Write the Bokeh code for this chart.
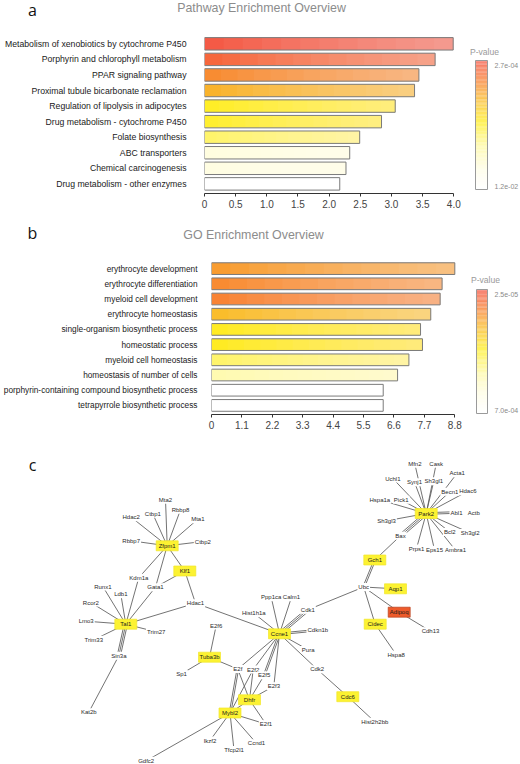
import math
from bokeh.plotting import figure
from bokeh.models import (ColumnDataSource, Range1d, FixedTicker, LinearColorMapper,
                          Label, CustomJSTickFormatter)
from bokeh.embed import file_html
from bokeh.resources import INLINE
from bokeh.core.properties import value

# ---------------- data: panel a (KEGG pathways) ----------------
pathway_terms = [
    "Metabolism of xenobiotics by cytochrome P450",
    "Porphyrin and chlorophyll metabolism",
    "PPAR signaling pathway",
    "Proximal tubule bicarbonate reclamation",
    "Regulation of lipolysis in adipocytes",
    "Drug metabolism - cytochrome P450",
    "Folate biosynthesis",
    "ABC transporters",
    "Chemical carcinogenesis",
    "Drug metabolism - other enzymes",
]
pathway_scores = [3.99, 3.70, 3.44, 3.37, 3.06, 2.84, 2.49, 2.33, 2.27, 2.17]
pathway_pvalues = [2.7e-4, 3.5e-4, 5.4e-4, 7.8e-4, 1.7e-3, 1.8e-3, 2.4e-3, 6.3e-3, 6.5e-3, 1.2e-2]
pathway_ticks = [0, 0.5, 1.0, 1.5, 2.0, 2.5, 3.0, 3.5, 4.0]
pathway_p_limits = [2.7e-4, 1.2e-2]

# ---------------- data: panel b (GO terms) ----------------
go_terms = [
    "erythrocyte development",
    "erythrocyte differentiation",
    "myeloid cell development",
    "erythrocyte homeostasis",
    "single-organism biosynthetic process",
    "homeostatic process",
    "myeloid cell homeostasis",
    "homeostasis of number of cells",
    "porphyrin-containing compound biosynthetic process",
    "tetrapyrrole biosynthetic process",
]
go_scores = [8.80, 8.34, 8.27, 7.93, 7.56, 7.63, 7.14, 6.73, 6.21, 6.21]
go_pvalues = [5.2e-5, 4.5e-5, 4.2e-5, 7.0e-5, 1.2e-4, 1.2e-4, 1.7e-4, 2.6e-4, 7.0e-4, 7.0e-4]
go_ticks = [0, 1.1, 2.2, 3.3, 4.4, 5.5, 6.6, 7.7, 8.8]
go_p_limits = [2.5e-5, 7.0e-4]

# ---------------- data: panel c (interaction network) ----------------
node_names = [
    "Zfpm1", "Klf1", "Tal1", "Tuba3b", "Ccne1", "Dhfr", "Mybl2", "Cdc6", "Park2",
    "Gch1", "Aqp1", "Cidec", "Adipoq",
    "Mta2", "Hdac2", "Ctbp1", "Rbbp8", "Mta1", "Rbbp7", "Ctbp2", "Kdm1a", "Gata1",
    "Runx1", "Ldb1", "Rcor2", "Lmo3", "Trim27", "Trim33", "Sin3a", "Kat2b", "Hdac1",
    "Sp1", "E2f6", "Hist1h1a", "Ppp1ca", "Calm1", "Cdk1", "Cdkn1b", "Pura", "Cdk2",
    "E2f", "E2f2", "E2f5", "E2f3", "E2f1", "Hist2h2bb", "Ikzf2", "Ccnd1", "Tfcp2l1",
    "Gdfc2", "Mfn2", "Cask", "Acta1", "Uchl1", "Synj1", "Sh3gl1", "Becn1", "Hdac6",
    "Hspa1a", "Pick1", "Abl1", "Actb", "Sh3gl3", "Bax", "Bcl2", "Sh3gl2", "Prps1",
    "Eps15", "Ambra1", "Ubc", "Cdh13", "Hspa8",
]
# layout coordinates of the network drawing
node_x = [
    166.7, 184.3, 125.3, 209.0, 279.0, 249.0, 229.5, 347.3, 425.7,
    374.3, 395.0, 374.7, 398.7,
    165.0, 130.7, 152.3, 180.0, 197.3, 130.7, 202.3, 138.3, 155.0,
    102.3, 120.3, 90.3, 85.7, 155.7, 93.3, 118.3, 88.3, 195.0,
    181.0, 215.7, 253.3, 270.7, 291.0, 307.3, 317.3, 307.7, 316.7,
    237.3, 252.7, 263.7, 273.3, 265.5, 374.3, 209.5, 256.0, 233.5,
    145.7, 414.3, 435.7, 456.7, 392.3, 414.0, 433.3, 449.3, 467.3,
    379.3, 400.7, 456.0, 473.3, 386.0, 400.0, 449.3, 469.7, 416.0,
    434.0, 455.0, 363.2, 430.0, 395.7,
]
node_y = [
    545.3, 570.5, 623.7, 656.7, 633.3, 699.3, 712.5, 696.2, 513.0,
    559.5, 588.3, 623.7, 611.7,
    499.3, 516.7, 513.3, 509.3, 518.7, 540.3, 541.0, 577.2, 586.7,
    586.0, 593.7, 602.0, 620.7, 631.3, 639.3, 655.3, 711.7, 602.7,
    673.3, 625.0, 612.7, 596.7, 596.7, 609.3, 629.7, 649.3, 668.8,
    668.6, 669.0, 674.8, 685.7, 723.6, 721.3, 740.0, 742.8, 749.5,
    760.3, 463.3, 463.3, 472.7, 478.0, 481.7, 480.7, 491.3, 490.7,
    499.3, 499.3, 512.0, 512.3, 520.3, 535.2, 531.5, 532.5, 548.0,
    549.3, 549.7, 586.5, 630.7, 654.0,
]
seed_nodes = ["Zfpm1", "Klf1", "Tal1", "Tuba3b", "Ccne1", "Dhfr", "Mybl2", "Cdc6",
              "Park2", "Gch1", "Aqp1", "Cidec"]
top_node = ["Adipoq"]
edges = [
    ("Zfpm1", "Mta2", 1), ("Zfpm1", "Hdac2", 1), ("Zfpm1", "Ctbp1", 1), ("Zfpm1", "Rbbp8", 1),
    ("Zfpm1", "Mta1", 1), ("Zfpm1", "Rbbp7", 1), ("Zfpm1", "Ctbp2", 1), ("Zfpm1", "Kdm1a", 1),
    ("Zfpm1", "Gata1", 1), ("Zfpm1", "Klf1", 1), ("Gata1", "Klf1", 1), ("Klf1", "Hdac1", 1),
    ("Tal1", "Runx1", 1), ("Tal1", "Ldb1", 1), ("Tal1", "Kdm1a", 1), ("Tal1", "Gata1", 1),
    ("Tal1", "Rcor2", 1), ("Tal1", "Lmo3", 1), ("Tal1", "Trim33", 1), ("Tal1", "Trim27", 1),
    ("Tal1", "Hdac1", 1), ("Tal1", "Sin3a", 3), ("Sin3a", "Kat2b", 1), ("Hdac1", "Ccne1", 1),
    ("Ccne1", "Hist1h1a", 1), ("Ccne1", "Ppp1ca", 1), ("Ccne1", "Calm1", 1), ("Ccne1", "Cdk1", 3),
    ("Ccne1", "Cdkn1b", 2), ("Ccne1", "Pura", 1), ("Ccne1", "Cdk2", 1), ("Ccne1", "E2f", 1),
    ("Ccne1", "E2f2", 1), ("Ccne1", "E2f5", 2), ("Ccne1", "E2f3", 1), ("Ubc", "Cdk1", 1),
    ("Cdk2", "Cdc6", 1), ("Cdc6", "Hist2h2bb", 1), ("Tuba3b", "E2f6", 1), ("Tuba3b", "Sp1", 1),
    ("Tuba3b", "E2f", 1), ("E2f", "Mybl2", 2), ("E2f", "Dhfr", 1), ("E2f2", "Dhfr", 1),
    ("E2f2", "Mybl2", 1), ("E2f5", "Dhfr", 1), ("E2f3", "Dhfr", 1), ("Dhfr", "E2f1", 1),
    ("Mybl2", "E2f1", 1), ("Mybl2", "Dhfr", 1), ("Mybl2", "Gdfc2", 1), ("Mybl2", "Ikzf2", 1),
    ("Mybl2", "Tfcp2l1", 1), ("Mybl2", "Ccnd1", 1), ("Ubc", "Gch1", 2), ("Ubc", "Aqp1", 1),
    ("Ubc", "Adipoq", 1), ("Ubc", "Cidec", 1), ("Gch1", "Bax", 1), ("Adipoq", "Cdh13", 1),
    ("Cidec", "Hspa8", 1), ("Park2", "Uchl1", 1), ("Park2", "Mfn2", 1), ("Park2", "Synj1", 1),
    ("Park2", "Sh3gl1", 1), ("Park2", "Cask", 1), ("Park2", "Acta1", 1), ("Park2", "Becn1", 1),
    ("Park2", "Hdac6", 1), ("Park2", "Hspa1a", 1), ("Park2", "Pick1", 1), ("Park2", "Abl1", 2),
    ("Park2", "Sh3gl3", 1), ("Park2", "Bax", 3), ("Park2", "Bcl2", 1), ("Park2", "Sh3gl2", 1),
    ("Park2", "Prps1", 1), ("Park2", "Eps15", 1), ("Park2", "Ambra1", 1),
]

# ---------------- styling ----------------
W = 520
FONT = "Liberation Sans"
ANCHORS = [(0.00, "#FFFFFF"), (0.15, "#FFFDE6"), (0.30, "#FFFAB0"), (0.42, "#FFF46E"),
           (0.52, "#FFEE22"), (0.62, "#FCD22A"), (0.72, "#F9B42C"), (0.82, "#F88C32"),
           (0.92, "#F76A3A"), (1.00, "#F45A46")]


def hex2rgb(h):
    return tuple(int(h[i:i + 2], 16) for i in (1, 3, 5))


def make_palette(n=256):
    out = []
    for i in range(n):
        t = i / (n - 1)
        for (t0, c0), (t1, c1) in zip(ANCHORS, ANCHORS[1:]):
            if t0 <= t <= t1:
                f = (t - t0) / (t1 - t0)
                a, b = hex2rgb(c0), hex2rgb(c1)
                out.append("#%02x%02x%02x" % tuple(round(a[j] + (b[j] - a[j]) * f) for j in range(3)))
                break
    return out


PALETTE = make_palette()
XTICK_FMT = CustomJSTickFormatter(code="return tick == 0 ? '0' : tick.toFixed(1);")


def header(page_top, height, letter, letter_xy, title, title_xy):
    """Strip above a bar panel holding the panel letter and title (coords = page px)."""
    h = figure(width=W, height=height, x_range=Range1d(0, W),
               y_range=Range1d(page_top + height, page_top),
               output_backend="svg", toolbar_location=None, min_border=0,
               x_axis_type=None, y_axis_type=None)
    h.outline_line_color = None
    h.grid.visible = False
    h.add_layout(Label(x=letter_xy[0], y=letter_xy[1], text=letter, text_font="Open Sans",
                       text_font_size="16px", text_color="#111111",
                       text_align="center", text_baseline="middle"))
    h.add_layout(Label(x=title_xy[0], y=title_xy[1], text=title, text_font=FONT,
                       text_font_size="12.4px", text_color="#8c8c8c",
                       text_align="center", text_baseline="middle"))
    return h


def bar_panel(terms, scores, pvalues, p_limits, ticks, cfg):
    H, page_top = cfg["height"], cfg["page_top"]
    left, ft, fb, step, scale = cfg["left"], cfg["frame_top"], cfg["frame_bottom"], cfg["step"], cfg["scale"]
    n = len(terms)
    y1 = n - 1 + 0.6
    y0 = y1 - (fb - ft) / step
    x_end = (W - left) / scale

    p = figure(width=W, height=H, x_range=Range1d(0, x_end), y_range=Range1d(y0, y1),
               output_backend="svg", toolbar_location=None,
               min_border_left=left, min_border_right=0, min_border_top=ft - page_top,
               min_border_bottom=page_top + H - fb)
    p.outline_line_color = None
    p.grid.visible = False
    p.background_fill_color = "white"
    p.border_fill_color = "white"

    # page px -> data
    def dx(px):
        return (px - left) / scale

    def dy(py):
        return y1 - (py - ft) / step

    lo = -math.log10(p_limits[1])
    hi = -math.log10(p_limits[0])
    mapper = LinearColorMapper(palette=PALETTE, low=lo, high=hi)
    ypos = [n - 1 - i for i in range(n)]
    src = ColumnDataSource(dict(y=ypos, score=scores, nlp=[-math.log10(v) for v in pvalues]))
    bh = cfg["bar_h"]
    p.hbar(y="y", left=0, right="score", height=bh, source=src,
           fill_color={"field": "nlp", "transform": mapper}, line_color=None)
    # soft left-to-right sheen (stacked translucent white layers)
    K = 12
    a = 1 - (1 - 0.42) ** (1 / K)
    gy, gl, gr = [], [], []
    for yv, s in zip(ypos, scores):
        for k in range(K):
            gy.append(yv)
            gl.append(s * (k + 1) / (K + 1))
            gr.append(s)
    p.hbar(y=gy, left=gl, right=gr, height=bh, fill_color="white", fill_alpha=a, line_color=None)
    p.hbar(y="y", left=0, right="score", height=bh, source=src,
           fill_color=None, line_color="#7a7a7a", line_width=1)

    xa = p.xaxis[0]
    xa.ticker = FixedTicker(ticks=ticks)
    xa.formatter = XTICK_FMT
    xa.bounds = (ticks[0], ticks[-1])
    xa.axis_line_color = "#333333"
    xa.major_tick_line_color = "#333333"
    xa.major_tick_out = 3
    xa.major_tick_in = 0
    xa.minor_tick_line_color = None
    xa.major_label_text_font = FONT
    xa.major_label_text_font_size = "10px"
    xa.major_label_text_color = "#444444"
    xa.major_label_standoff = 3

    ya = p.yaxis[0]
    ya.ticker = FixedTicker(ticks=ypos)
    ya.formatter = CustomJSTickFormatter(args=dict(labels=list(reversed(terms))),
                                         code="return labels[Math.round(tick)] || '';")
    ya.axis_line_color = None
    ya.major_tick_line_color = None
    ya.minor_tick_line_color = None
    ya.major_label_text_font = FONT
    ya.major_label_text_font_size = cfg["label_font"]
    ya.major_label_text_color = "#1a1a1a"
    ya.major_label_standoff = cfg["standoff"]

    # colour legend for the p-values (gradient strip drawn through the data scales)
    cx0, cx1 = dx(cfg["cb_x"][0]), dx(cfg["cb_x"][1])
    cyt, cyb = cfg["cb_y"]
    m = 96
    qb, qt, qc = [], [], []
    for i in range(m):
        pb_ = cyb - (cyb - cyt) * i / m
        pt_ = cyb - (cyb - cyt) * (i + 1) / m
        qb.append(dy(pb_))
        qt.append(dy(pt_) + 0.002)
        qc.append(PALETTE[round(i * (len(PALETTE) - 1) / (m - 1))])
    p.quad(left=cx0, right=cx1, bottom=qb, top=qt, fill_color=qc, fill_alpha=0.75, line_color=None)
    p.quad(left=cx0, right=cx1, bottom=dy(cyb), top=dy(cyt), fill_color=None,
           line_color="#9a9a9a", line_width=1)
    lab_x = dx(cfg["cb_x"][1] + 7)
    p.text(x=[lab_x, lab_x], y=[dy(cyt + 4.5), dy(cyb - 3)],
           text=["%.1e" % p_limits[0], "%.1e" % p_limits[1]],
           text_font=value(FONT), text_font_size="7px", text_color="#8a8a8a",
           text_align="left", text_baseline="middle")
    p.text(x=[dx(cfg["cb_title"][0])], y=[dy(cfg["cb_title"][1])], text=["P-value"],
           text_font=value(FONT), text_font_size="8.6px", text_color="#9a9a9a",
           text_align="center", text_baseline="middle")
    return p


# page layout (page pixels from the top-left corner of the window)
hdr_a = header(0, 24, "a", (32, 9), "Pathway Enrichment Overview", (261, 7.5))
cfg_a = dict(page_top=24, height=192, left=204, frame_top=34, frame_bottom=193, step=15.56,
             scale=62.33, bar_h=0.8, label_font="8.7px", standoff=12,
             cb_x=(475, 487), cb_y=(60, 189), cb_title=(484, 51))
pa = bar_panel(pathway_terms, pathway_scores, pathway_pvalues, pathway_p_limits,
               pathway_ticks, cfg_a)

hdr_b = header(216, 30, "b", (32, 232), "GO Enrichment Overview", (253, 234))
cfg_b = dict(page_top=246, height=198, left=211, frame_top=259, frame_bottom=414, step=15.2,
             scale=27.65, bar_h=0.77, label_font="8.3px", standoff=8,
             cb_x=(476, 487), cb_y=(289, 413), cb_title=(485, 279))
pb = bar_panel(go_terms, go_scores, go_pvalues, go_p_limits, go_ticks, cfg_b)

# ---------------- network panel ----------------
NET_TOP = 444
HC = 764 - NET_TOP
pc = figure(width=W, height=HC, x_range=Range1d(0, W), y_range=Range1d(764, NET_TOP),
            output_backend="svg", toolbar_location=None, min_border=0,
            x_axis_type=None, y_axis_type=None)
pc.outline_line_color = None
pc.grid.visible = False

pos = {nm: (x, y) for nm, x, y in zip(node_names, node_x, node_y)}
x0, y0, x1, y1 = [], [], [], []
for a_, b_, mult in edges:
    ax, ay = pos[a_]
    bx, by = pos[b_]
    L = math.hypot(bx - ax, by - ay)
    nx, ny = -(by - ay) / L, (bx - ax) / L
    for k in range(mult):
        off = (k - (mult - 1) / 2) * 1.6
        x0.append(ax + nx * off); y0.append(ay + ny * off)
        x1.append(bx + nx * off); y1.append(by + ny * off)
pc.segment(x0=x0, y0=y0, x1=x1, y1=y1, line_color="#5a5a5a", line_width=0.85)

boxed = seed_nodes + top_node
box_fill = ["#FCF232"] * len(seed_nodes) + ["#EE5B2B"] * len(top_node)
box_line = ["#F2E62A"] * len(seed_nodes) + ["#B8421E"] * len(top_node)
pc.rect(x=[pos[nm][0] for nm in boxed], y=[pos[nm][1] for nm in boxed], width=22, height=10,
        width_units="screen", height_units="screen",
        fill_color=box_fill, line_color=box_line, line_width=0.7)

plain = [nm for nm in node_names if nm not in boxed]
pc.text(x=[pos[nm][0] for nm in plain], y=[pos[nm][1] for nm in plain], text=plain,
        text_font=value(FONT), text_font_size="6px", text_color="#2a2a2a",
        text_align="center", text_baseline="middle",
        background_fill_color="white", padding=1)
pc.text(x=[pos[nm][0] for nm in boxed], y=[pos[nm][1] for nm in boxed], text=boxed,
        text_font=value(FONT), text_font_size="6px", text_color="#1a1a1a",
        text_align="center", text_baseline="middle")
pc.add_layout(Label(x=32, y=464, text="c", text_font="Open Sans", text_font_size="16px",
                    text_color="#111111", text_align="center", text_baseline="middle"))

open("out.html", "w").write(file_html([hdr_a, pa, hdr_b, pb, pc], INLINE))
